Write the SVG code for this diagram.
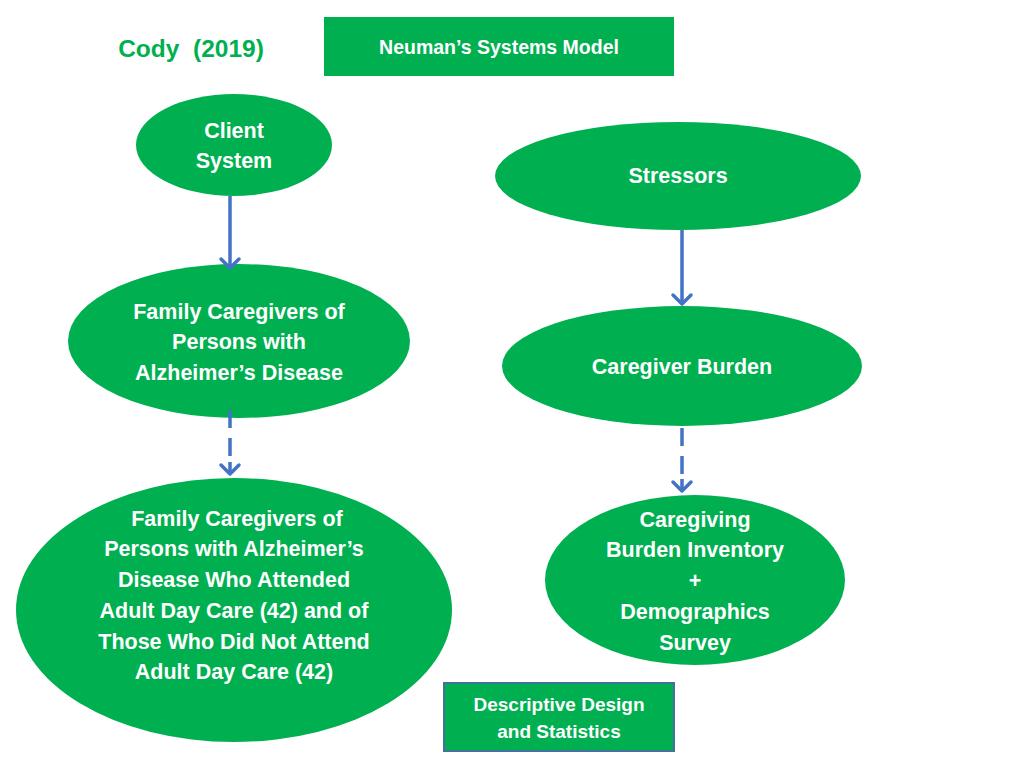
<svg xmlns="http://www.w3.org/2000/svg" width="1024" height="768" viewBox="0 0 1024 768">
<style>
.n{fill:#00B050}
.t{font-family:"Liberation Sans",Arial,sans-serif;font-weight:bold;fill:#fff;text-anchor:middle;font-size:21.5px}
.c{stroke:#4472C4;stroke-width:3.5;fill:none}
.h{stroke:#4472C4;stroke-width:3.5;fill:none;stroke-linecap:round;stroke-linejoin:round}
.d{stroke-dasharray:16,12}
</style>
<rect width="1024" height="768" fill="#fff"/>
<text x="191" y="57" xml:space="preserve" style="font-family:'Liberation Sans',Arial,sans-serif;font-weight:bold;font-size:24.5px;fill:#00B050;text-anchor:middle;white-space:pre">Cody  (2019)</text>
<g id="neuman"><rect class="n" x="324" y="17" width="350" height="59"/><text class="t" x="499" y="54" style="font-size:19.5px">Neuman’s Systems Model</text></g>
<g id="client"><ellipse class="n" cx="234" cy="145" rx="98" ry="51"/><text class="t" x="234" y="138">Client</text><text class="t" x="234" y="168">System</text></g>
<g id="stressors"><ellipse class="n" cx="678" cy="176" rx="183" ry="54"/><text class="t" x="678" y="183">Stressors</text></g>
<g id="family"><ellipse class="n" cx="239" cy="341" rx="171" ry="77"/><text class="t" x="239" y="319">Family Caregivers of</text><text class="t" x="239" y="349">Persons with</text><text class="t" x="239" y="380">Alzheimer’s Disease</text></g>
<g id="burden"><ellipse class="n" cx="682" cy="366" rx="180" ry="60"/><text class="t" x="682" y="374">Caregiver Burden</text></g>
<g id="sample"><ellipse class="n" cx="234" cy="610" rx="218" ry="132"/>
<text class="t" x="237" y="526">Family Caregivers of</text><text class="t" x="234" y="556">Persons with Alzheimer’s</text><text class="t" x="234" y="587">Disease Who Attended</text><text class="t" x="234" y="618">Adult Day Care (42) and of</text><text class="t" x="234" y="649">Those Who Did Not Attend</text><text class="t" x="234" y="679">Adult Day Care (42)</text></g>
<g id="inventory"><ellipse class="n" cx="695" cy="580" rx="150" ry="85"/>
<text class="t" x="695" y="527">Caregiving</text><text class="t" x="695" y="557">Burden Inventory</text><text class="t" x="695" y="588">+</text><text class="t" x="695" y="619">Demographics</text><text class="t" x="695" y="650">Survey</text></g>
<g id="design"><rect class="n" x="444" y="683" width="230" height="68" stroke="#41719C" stroke-width="2"/><text class="t" x="559" y="711" style="font-size:19px">Descriptive Design</text><text class="t" x="559" y="738" style="font-size:19px">and Statistics</text></g>
<g id="connectors">
<line class="c" x1="230" y1="196" x2="230" y2="268"/>
<path class="h" d="M221,259 L230,268 L239,259"/>
<line class="c" x1="682" y1="230" x2="682" y2="304"/>
<path class="h" d="M673,295 L682,304 L691,295"/>
<line class="c" x1="230" y1="410" x2="230" y2="428"/>
<line class="c" x1="230" y1="438" x2="230" y2="456"/>
<line class="c" x1="230" y1="462" x2="230" y2="474"/>
<path class="h" d="M221,465 L230,474 L239,465"/>
<line class="c" x1="682" y1="428" x2="682" y2="446"/>
<line class="c" x1="682" y1="456" x2="682" y2="474"/>
<line class="c" x1="682" y1="479" x2="682" y2="491"/>
<path class="h" d="M673,482 L682,491 L691,482"/>
</g>
</svg>
